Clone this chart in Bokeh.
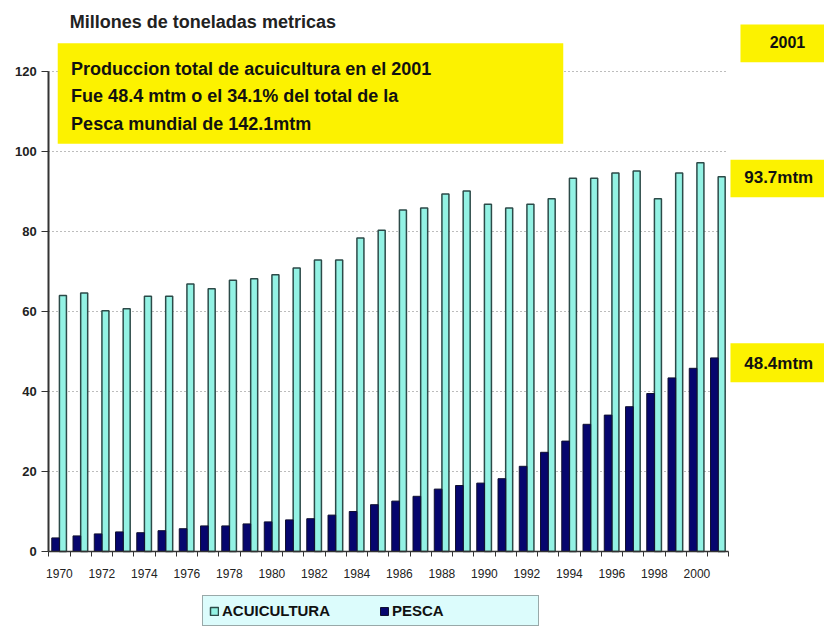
from bokeh.plotting import figure
from bokeh.models import (FixedTicker, Label, BoxAnnotation, Legend, LegendItem,
                          ColumnDataSource)
from bokeh.transform import dodge
from bokeh.embed import file_html
from bokeh.resources import INLINE

# ---- data ----
years = list(range(1970, 2002))
acuicultura = [64.0, 64.6, 60.2, 60.7, 63.8, 63.8, 66.9, 65.7, 67.8, 68.2,
               69.2, 70.9, 72.9, 72.9, 78.4, 80.3, 85.4, 85.9, 89.4, 90.1,
               86.8, 85.9, 86.8, 88.2, 93.3, 93.3, 94.6, 95.1, 88.2, 94.6,
               97.2, 93.7]
pesca = [3.4, 3.9, 4.4, 4.9, 4.7, 5.2, 5.7, 6.4, 6.4, 6.9,
         7.4, 7.9, 8.2, 9.1, 10.0, 11.7, 12.6, 13.8, 15.6, 16.5,
         17.1, 18.2, 21.3, 24.8, 27.6, 31.8, 34.1, 36.2, 39.5, 43.4,
         45.8, 48.4]
y_ticks = [0, 20, 40, 60, 80, 100, 120]
grid_ticks = [20, 40, 60, 80, 100, 120]
x_label_years = list(range(1970, 2001, 2))
series_names = ["ACUICULTURA", "PESCA"]
title_text = "Millones de toneladas metricas"
box_text = ("Produccion total de acuicultura en el 2001\n"
            "Fue 48.4 mtm o el 34.1% del total de la\n"
            "Pesca mundial de 142.1mtm")
year_tag = "2001"
total_tag = "93.7mtm"
acui_tag = "48.4mtm"

FONT = "Liberation Sans"

src = ColumnDataSource(dict(year=years, acuicultura=acuicultura, pesca=pesca))

x0, x1 = years[0] - 0.5, years[-1] + 0.5
# frame covers the whole canvas; axes are pinned at fixed locations
p = figure(width=824, height=627, x_range=(1967.227, 2006.004),
           y_range=(-19.0, 137.75), output_backend="svg", toolbar_location=None,
           min_border=0, min_border_left=0, min_border_right=0,
           min_border_top=0, min_border_bottom=0,
           x_axis_location="below", y_axis_location="left")
p.outline_line_color = None
p.background_fill_color = "white"
p.border_fill_color = "white"

# grid
p.xgrid.visible = False
p.ygrid.ticker = FixedTicker(ticks=grid_ticks)
p.ygrid.grid_line_color = "#7a7a7a"
p.ygrid.grid_line_dash = "1 3"
p.ygrid.grid_line_width = 1.2
p.ygrid.cross_bounds = (x0, x1)

# bars
r_light = p.vbar(x=dodge('year', 0.165, range=p.x_range), top='acuicultura',
                 width=0.33, source=src, fill_color="#93f2e4",
                 line_color="#2c4a48", line_width=1.5)
r_dark = p.vbar(x=dodge('year', -0.18, range=p.x_range), top='pesca',
                width=0.36, source=src, fill_color="#06066e",
                line_color="#101030", line_width=1)

# axes
xa = p.xaxis[0]
xa.fixed_location = 0
xa.bounds = (x0, x1)
xa.ticker = FixedTicker(ticks=x_label_years,
                        minor_ticks=[y - 0.5 for y in years] + [x1])
xa.major_tick_out = 0
xa.major_tick_in = 0
xa.minor_tick_out = 5
xa.minor_tick_in = 0
xa.minor_tick_line_color = "#333333"
xa.axis_line_color = "#333333"
xa.axis_line_width = 1.5
xa.major_label_standoff = 12
xa.major_label_text_font = FONT
xa.major_label_text_font_size = "12px"
xa.major_label_text_color = "#222222"

ya = p.yaxis[0]
ya.fixed_location = x0
ya.bounds = (0, 120)
ya.ticker = FixedTicker(ticks=y_ticks)
ya.major_tick_out = 7
ya.major_tick_in = 0
ya.minor_tick_out = 0
ya.minor_tick_in = 0
ya.axis_line_color = "#333333"
ya.axis_line_width = 2
ya.major_tick_line_color = "#333333"
ya.major_label_standoff = 5
ya.major_label_text_font = FONT
ya.major_label_text_font_size = "13px"
ya.major_label_text_font_style = "bold"
ya.major_label_text_color = "#222222"

# title label
p.add_layout(Label(x=1970.49, y=132.3, text=title_text, text_font=FONT,
                   text_font_size="18px", text_font_style="bold",
                   text_baseline="middle", text_color="#222222"))

# yellow boxes
YEL = "#fcf200"
p.add_layout(BoxAnnotation(left=1969.92, right=1993.71, top=127.08, bottom=101.93,
                           fill_color=YEL, fill_alpha=1, line_color=None))
p.add_layout(Label(x=1970.55, y=123.2, text=box_text, text_font=FONT,
                   text_font_size="18px", text_font_style="bold",
                   text_baseline="top", text_line_height=1.38,
                   text_color="#111111"))

p.add_layout(BoxAnnotation(left=2002.05, right=2006.57, top=131.75, bottom=122.33,
                           fill_color=YEL, fill_alpha=1, line_color=None))
p.add_layout(Label(x=2004.26, y=127.33, text=year_tag, text_font=FONT,
                   text_font_size="16px", text_font_style="bold",
                   text_align="center", text_baseline="middle", text_color="#111111"))

p.add_layout(BoxAnnotation(left=2001.58, right=2006.13, top=97.93, bottom=88.58,
                           fill_color=YEL, fill_alpha=1, line_color=None))
p.add_layout(Label(x=2003.85, y=93.43, text=total_tag, text_font=FONT,
                   text_font_size="17px", text_font_style="bold",
                   text_align="center", text_baseline="middle", text_color="#111111"))

p.add_layout(BoxAnnotation(left=2001.58, right=2006.13, top=52.08, bottom=42.33,
                           fill_color=YEL, fill_alpha=1, line_color=None))
p.add_layout(Label(x=2003.85, y=46.93, text=acui_tag, text_font=FONT,
                   text_font_size="17px", text_font_style="bold",
                   text_align="center", text_baseline="middle", text_color="#111111"))

# legend
legend = Legend(items=[LegendItem(label=series_names[0], renderers=[r_light]),
                       LegendItem(label=series_names[1], renderers=[r_dark])],
                orientation="horizontal", location=(202, 1))
legend.background_fill_color = "#dcfcfc"
legend.background_fill_alpha = 1
legend.border_line_color = "#555555"
legend.border_line_width = 1.5
legend.label_text_font = FONT
legend.label_text_font_size = "15px"
legend.label_text_font_style = "bold"
legend.label_text_color = "#111111"
legend.glyph_width = 10
legend.glyph_height = 10
legend.label_standoff = 3
legend.label_width = 140
legend.spacing = 17
legend.padding = 6
legend.margin = 0
p.add_layout(legend, "center")

open("out.html", "w").write(file_html(p, INLINE))
